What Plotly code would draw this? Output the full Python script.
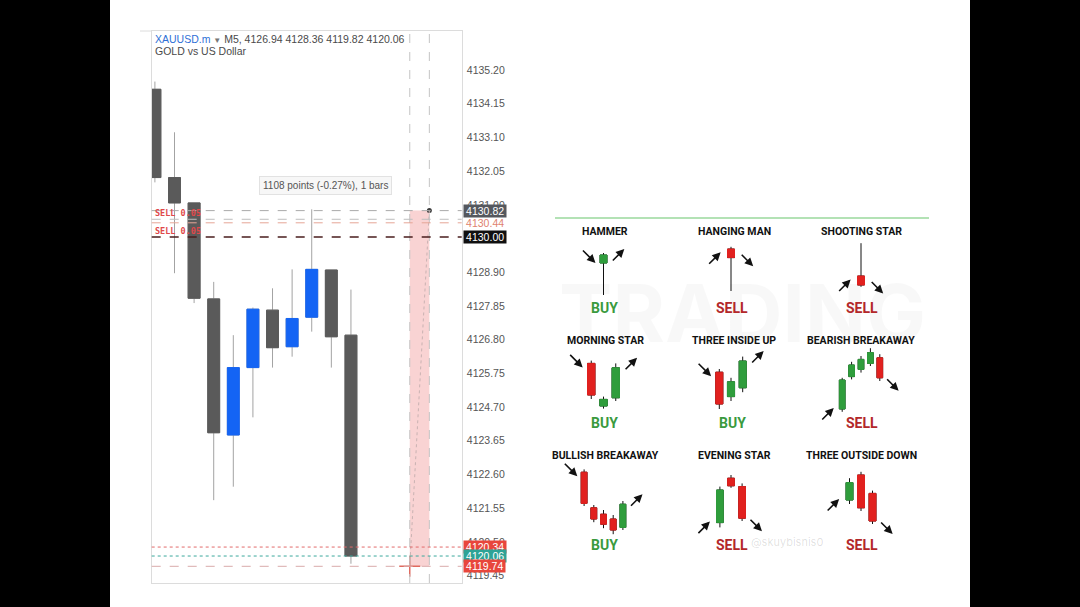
import plotly.graph_objects as go

W, H = 1080, 607

# ---------------- XAUUSD.m  M5 candles (left panel) ----------------
bars = list(range(11))
opens = [4134.60, 4131.85, 4131.06, 4128.07, 4123.83, 4125.93, 4127.72, 4126.58, 4127.50, 4128.97, 4126.94]
highs = [4134.84, 4133.26, 4131.06, 4128.60, 4126.94, 4127.80, 4128.40, 4128.99, 4130.86, 4128.97, 4128.36]
lows = [4131.70, 4128.87, 4127.94, 4121.80, 4122.22, 4124.38, 4125.93, 4126.27, 4127.05, 4125.93, 4119.82]
closes = [4131.85, 4131.06, 4128.09, 4123.90, 4125.93, 4127.75, 4126.55, 4127.46, 4128.99, 4126.89, 4120.06]

price_ticks = [4119.45, 4120.50, 4121.55, 4122.60, 4123.65, 4124.70, 4125.75, 4126.80,
               4127.85, 4128.90, 4129.95, 4131.00, 4132.05, 4133.10, 4134.15, 4135.20]

# price lines shown on the chart
line_levels = [4130.82, 4130.55, 4130.44, 4130.00, 4120.34, 4120.06, 4119.74]
label_levels = [4130.82, 4130.44, 4130.00, 4120.34, 4120.06, 4119.74]
sell_orders = [4130.55, 4130.00]
sell_text = "SELL 0.05"

# measuring tool
measure_bars = [13, 14]
measure_prices = [4119.74, 4130.82]
measure_text = "1108 points (-0.27%), 1 bars"

# ---------------- candlestick patterns (right panel) ----------------
pat_names = ["HAMMER", "HANGING MAN", "SHOOTING STAR",
             "MORNING STAR", "THREE INSIDE UP", "BEARISH BREAKAWAY",
             "BULLISH BREAKAWAY", "EVENING STAR", "THREE OUTSIDE DOWN"]
pat_signals = ["BUY", "SELL", "SELL", "BUY", "BUY", "SELL", "BUY", "SELL", "SELL"]
pat_open = [[9.25], [12.75], [6.0],
            [12.9, 2.25, 4.3], [10.7, 4.6, 6.8], [1.5, 9.6, 11.4, 12.9, 14.3],
            [16.2, 7.3, 5.7, 4.5, 2.4], [3.6, 14.7, 12.6], [9.25, 15.5, 10.9]]
pat_high = [[11.75], [13.3], [14.2],
            [13.6, 4.6, 12.9], [11.5, 9.3, 14.6], [9.3, 13.3, 14.75, 16.7, 15.2],
            [16.9, 8.0, 6.75, 5.5, 9.0], [12.6, 15.5, 13.4], [14.7, 16.3, 11.6]]
pat_low = [[1.25], [2.25], [3.3],
           [4.0, 1.6, 3.5], [1.5, 3.5, 5.7], [0.8, 8.9, 10.6, 12.25, 8.5],
           [7.75, 3.7, 2.2, 0.7, 1.75], [2.4, 12.3, 4.0], [8.25, 6.5, 3.25]]
pat_close = [[11.25], [10.6], [3.75],
             [5.0, 3.9, 11.8], [2.75, 8.3, 13.5], [8.75, 12.5, 13.9, 15.6, 9.3],
             [8.4, 4.5, 3.2, 1.75, 8.2], [11.75, 12.8, 4.7], [13.6, 7.3, 4.0]]

# layout of the cheat sheet (pixels)
pat_spacing = [11.5, 11.5, 11.5, 12.25, 11.7, 9.4, 9.7, 11.1, 11.5]
col_center = [603.5, 731, 861]
title_x = [605, 734, 861]
row_band = [(232, 300), (340, 415), (462, 537)]
title_y = [231.5, 340.5, 455.5]
signal_y = [308, 423, 545]


def px(x):
    return x / W


def py(y):
    return 1 - y / H


fig = go.Figure()


def add_candles(x, o, h, l, c, up, down, wick, xa, ya, body_line=1):
    # wick pass
    fig.add_trace(go.Candlestick(
        x=x, open=o, high=h, low=l, close=c, xaxis=xa, yaxis=ya,
        increasing=dict(line=dict(color=wick, width=1), fillcolor=wick),
        decreasing=dict(line=dict(color=wick, width=1), fillcolor=wick),
        hoverinfo="skip", showlegend=False))
    # body pass, covers the wick inside the body
    top = [max(a, b) for a, b in zip(o, c)]
    bot = [min(a, b) for a, b in zip(o, c)]
    fig.add_trace(go.Candlestick(
        x=x, open=o, high=top, low=bot, close=c, xaxis=xa, yaxis=ya,
        increasing=dict(line=dict(color=up, width=body_line), fillcolor=up),
        decreasing=dict(line=dict(color=down, width=body_line), fillcolor=down),
        hoverinfo="skip", showlegend=False))


add_candles(bars, opens, highs, lows, closes, "#1464f4", "#5a5a5a", "#a3a3a3", "x", "y")

# measuring tool markers
fig.add_trace(go.Scatter(x=[measure_bars[1]], y=[measure_prices[1]], mode="markers",
                         marker=dict(size=5, color="#3d3d3d"), hoverinfo="skip", showlegend=False))
fig.add_trace(go.Scatter(x=[measure_bars[0]], y=[measure_prices[0]], mode="markers",
                         marker=dict(symbol="cross-thin", size=15, line=dict(color="#e06a5f", width=1.5)),
                         hoverinfo="skip", showlegend=False))

shapes = [
    # white screenshot panel
    dict(type="rect", xref="paper", yref="paper", x0=px(110), x1=px(970), y0=0, y1=1,
         fillcolor="white", line=dict(width=0), layer="below"),
    # green rule on the cheat sheet
    dict(type="line", xref="paper", yref="paper", x0=px(555), x1=px(929), y0=py(218), y1=py(218),
         line=dict(color="#9ad99d", width=1.5)),
    dict(type="rect", xref="x", yref="y", x0=measure_bars[0], x1=measure_bars[1],
         y0=measure_prices[0], y1=measure_prices[1], fillcolor="rgba(247,196,196,0.75)",
         line=dict(width=0), layer="below"),
    dict(type="line", xref="x", yref="y", x0=measure_bars[1], x1=measure_bars[0],
         y0=measure_prices[1], y1=measure_prices[0], line=dict(color="#c9b2b2", width=1, dash="dot")),
    # chart frame top edge runs a bit past the plot on the left
    dict(type="line", xref="paper", yref="paper", x0=px(140), x1=px(152), y0=py(31), y1=py(31),
         line=dict(color="#dcdcdc", width=1)),
]
for b in measure_bars:
    shapes.append(dict(type="line", xref="x", yref="y domain", x0=b, x1=b, y0=0, y1=1,
                       line=dict(color="#c4c4c4", width=1, dash="dash")))

line_style = {4130.82: ("#a9a9a9", "dash", 1), 4130.55: ("#bdbdbd", "dash", 1),
              4130.44: ("#e6a596", "dash", 1), 4130.00: ("#4a1e1e", "dash", 1.6),
              4120.34: ("#e26a6a", "dot", 1), 4120.06: ("#3aa89c", "dot", 1),
              4119.74: ("#d9aaaa", "dash", 1)}
for v in line_levels:
    col, dash, wd = line_style[v]
    shapes.append(dict(type="line", xref="x domain", yref="y", x0=0, x1=1, y0=v, y1=v,
                       line=dict(color=col, width=wd, dash=dash)))

annotations = []

# price labels on the axis
label_style = {4130.82: ("#55585e", "white"), 4130.44: ("rgba(0,0,0,0)", "#e0826f"),
               4130.00: ("#101010", "white"), 4120.34: ("#e8463c", "white"),
               4120.06: ("#2ea396", "white"), 4119.74: ("#e8463c", "white")}
for v in label_levels:
    bg, fg = label_style[v]
    annotations.append(dict(xref="paper", yref="y", x=px(462.5), y=v, xanchor="left", yanchor="middle",
                            text=f"\u2009{v:.2f}\u2009", showarrow=False, bgcolor=bg, borderpad=0,
                            font=dict(family="Liberation Sans", size=10.5, color=fg)))

for v in sell_orders:
    annotations.append(dict(xref="paper", yref="y", x=px(153), y=v, xanchor="left", yanchor="bottom",
                            yshift=-1, text=f"<b>{sell_text}</b>", showarrow=False,
                            font=dict(family="DejaVu Sans Mono", size=8.5, color="#e0484a")))

annotations.append(dict(xref="x", yref="paper", x=8.72, y=py(185.5), xanchor="center", yanchor="middle",
                        text=measure_text, showarrow=False,
                        bgcolor="#f7f7f7", bordercolor="#e2e2e2", borderwidth=1, borderpad=3,
                        font=dict(family="Liberation Sans", size=10, color="#555")))

header = (f"<span style='color:#2e6fd6'>XAUUSD.m</span> <span style='font-size:8px;color:#777'>▼</span>"
          f" M5, {opens[-1]:.2f} {highs[-1]:.2f} {lows[-1]:.2f} {closes[-1]:.2f}")
annotations.append(dict(xref="paper", yref="paper", x=px(153), y=py(39), xanchor="left", yanchor="middle",
                        text=header, showarrow=False,
                        font=dict(family="Liberation Sans", size=10.5, color="#4a4a4a")))
annotations.append(dict(xref="paper", yref="paper", x=px(153), y=py(51), xanchor="left", yanchor="middle",
                        text="GOLD vs US Dollar", showarrow=False,
                        font=dict(family="Liberation Sans", size=10.5, color="#4a4a4a")))

# faint watermarks of the cheat sheet
annotations.append(dict(xref="paper", yref="paper", x=px(742), y=py(312), xanchor="center", yanchor="middle",
                        text="<b>TRADING</b>", showarrow=False,
                        font=dict(family="Inter", size=80, color="rgba(0,0,0,0.028)")))
annotations.append(dict(xref="paper", yref="paper", x=px(787), y=py(542), xanchor="center", yanchor="middle",
                        text="@skuybisnis0", showarrow=False,
                        font=dict(family="Inter", size=11, color="rgba(0,0,0,0.13)")))

axes = dict(
    xaxis=dict(domain=[px(151.7), px(461.7)], range=[-0.163, 15.65], showticklabels=False,
               showgrid=False, zeroline=False, showline=True, mirror=True, linecolor="#dcdcdc",
               ticks="", rangeslider=dict(visible=False), fixedrange=True),
    yaxis=dict(domain=[py(583), py(31)], range=[4119.22, 4136.415], side="right",
               tickvals=price_ticks, ticktext=[f"{v:.2f}" for v in price_ticks],
               showgrid=False, zeroline=False, showline=True, mirror=True, linecolor="#dcdcdc",
               ticks="", ticklabelstandoff=2, fixedrange=True,
               tickfont=dict(family="Liberation Sans", size=10.5, color="#555")),
)

for k in range(9):
    r, c = divmod(k, 3)
    n = len(pat_open[k])
    s = pat_spacing[k]
    cx = col_center[c]
    half = 60
    mid = (n - 1) / 2
    top_px, bot_px = row_band[r]
    xa, ya = f"x{k + 2}", f"y{k + 2}"
    axes[f"xaxis{k + 2}"] = dict(domain=[px(cx - half), px(cx + half)], range=[mid - half / s, mid + half / s],
                                 anchor=ya, visible=False, rangeslider=dict(visible=False), fixedrange=True)
    axes[f"yaxis{k + 2}"] = dict(domain=[py(bot_px), py(top_px)], range=[0, (bot_px - top_px) / 4],
                                 anchor=xa, visible=False, fixedrange=True)
    xs = list(range(n))
    add_candles(xs, pat_open[k], pat_high[k], pat_low[k], pat_close[k],
                "#2f9d3c", "#e1211f", "#111111", xa, ya)

    o, cl = pat_open[k], pat_close[k]
    buy = pat_signals[k] == "BUY"
    t0, b0 = max(o[0], cl[0]), min(o[0], cl[0])
    t1, b1 = max(o[-1], cl[-1]), min(o[-1], cl[-1])
    arrow = dict(xref=xa, yref=ya, showarrow=True, text="", arrowcolor="#111", arrowwidth=1.6,
                 arrowhead=2, arrowsize=1.05, axref="pixel", ayref="pixel")
    if n == 1:
        y_in = y_out = (t0 + b0) / 2
    else:
        y_in = t0 if buy else b0
        y_out = t1 if buy else b1
    if buy:
        annotations.append(dict(arrow, x=-0.7, y=y_in, yshift=-4, ax=-14, ay=-14))
        annotations.append(dict(arrow, x=n - 1 + 0.68, y=y_out, xshift=13, yshift=10, ax=-13, ay=13))
    else:
        annotations.append(dict(arrow, x=-0.9, y=y_in, yshift=1, ax=-13, ay=13))
        annotations.append(dict(arrow, x=n - 1 + (0.8 if n == 1 else 0.62), y=y_out,
                                xshift=13, yshift=-13, ax=-13, ay=-13))

    annotations.append(dict(xref="paper", yref="paper", x=px(title_x[c]), y=py(title_y[r]),
                            xanchor="center", yanchor="middle",
                            text=f"<b>{pat_names[k]}</b>", showarrow=False,
                            font=dict(family="Roboto", size=10.5, color="#111")))
    annotations.append(dict(xref="paper", yref="paper", x=px(col_center[c] + 1), y=py(signal_y[r]),
                            xanchor="center", yanchor="middle",
                            text=f"<b>{pat_signals[k]}</b>", showarrow=False,
                            font=dict(family="Roboto", size=14, color="#3a9a3e" if buy else "#b3282a")))

fig.update_layout(
    width=W, height=H, margin=dict(l=0, r=0, t=0, b=0),
    paper_bgcolor="black", plot_bgcolor="white",
    showlegend=False, hovermode=False,
    boxgap=0.22, boxgroupgap=0.22,
    shapes=shapes, annotations=annotations,
    **axes,
)

fig.write_html("out.html", config={"displayModeBar": False},
               post_script="document.body.style.margin='0';")
